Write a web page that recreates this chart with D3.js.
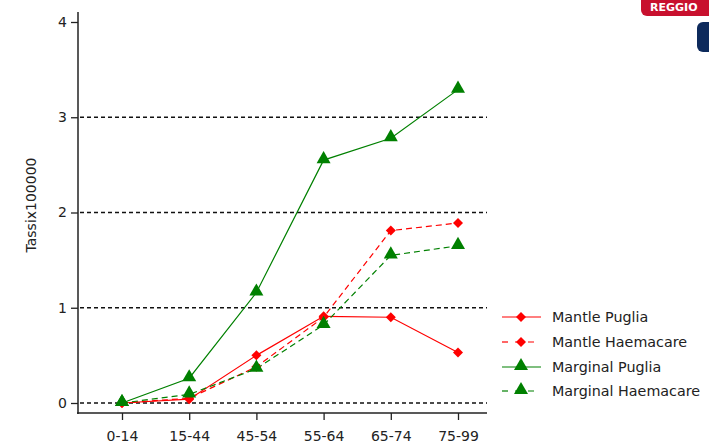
<!DOCTYPE html>
<html><head><meta charset="utf-8">
<script src="https://cdn.jsdelivr.net/npm/d3@7"></script>
<style>body{margin:0;background:#fff;}svg{display:block;font-family:"DejaVu Sans",Verdana,sans-serif;}</style>
</head><body>
<svg id="chart" width="709" height="445"></svg>
<script>
const categories = ["0-14","15-44","45-54","55-64","65-74","75-99"];
const mantlePuglia = [0, 0.04, 0.50, 0.91, 0.90, 0.53];
const mantleHaemacare = [0, 0.05, 0.38, 0.90, 1.81, 1.89];
const marginalPuglia = [0, 0.26, 1.16, 2.55, 2.78, 3.29];
const marginalHaemacare = [0, 0.09, 0.36, 0.82, 1.55, 1.65];
const yTicks = [0, 1, 2, 3, 4];
const gridValues = [0, 1, 2, 3];
const seriesNames = ["Mantle Puglia","Mantle Haemacare","Marginal Puglia","Marginal Haemacare"];

const series = [
  {name: seriesNames[0], values: mantlePuglia, color: "#ff0000", dash: null, shape: "diamond"},
  {name: seriesNames[1], values: mantleHaemacare, color: "#ff0000", dash: "6,4", shape: "diamond"},
  {name: seriesNames[2], values: marginalPuglia, color: "#008000", dash: null, shape: "triangle"},
  {name: seriesNames[3], values: marginalHaemacare, color: "#008000", dash: "6,4", shape: "triangle"}
];

const svg = d3.select("#chart");
const x = d3.scalePoint().domain(categories).range([122, 458]);
const y = d3.scaleLinear().domain([0, 4]).range([403, 22]);

function marker(sel, shape, cx, cy, color) {
  if (shape === "diamond") {
    sel.append("path").attr("d", d3.symbol().type(d3.symbolSquare).size(50)())
      .attr("transform", `translate(${cx},${cy}) rotate(45)`).attr("fill", color);
  } else {
    sel.append("path").attr("d", d3.symbol().type(d3.symbolTriangle).size(85)())
      .attr("transform", `translate(${cx},${cy - 1})`).attr("fill", color);
  }
}

// grid
svg.append("g").selectAll("line").data(gridValues).join("line")
  .attr("x1", 80).attr("x2", 487)
  .attr("y1", d => y(d)).attr("y2", d => y(d))
  .attr("stroke", "#111").attr("stroke-width", 1.3)
  .attr("stroke-dasharray", "4,3");

// axes
const yAxis = svg.append("g").attr("transform", "translate(78,0)")
  .call(d3.axisLeft(y).tickValues(yTicks).tickFormat(d3.format("d")).tickSize(7).tickSizeOuter(0));
yAxis.select(".domain").remove();
svg.append("line").attr("x1", 78).attr("x2", 78).attr("y1", 12).attr("y2", 414)
  .attr("stroke", "#222").attr("stroke-width", 1.5);
yAxis.selectAll(".tick line").attr("stroke", "#222").attr("stroke-width", 1.3);
yAxis.selectAll(".tick text").attr("font-size", 14).attr("fill", "#222").attr("x", -11)
  .attr("font-family", "DejaVu Sans, Verdana, sans-serif");

const xAxis = svg.append("g").attr("transform", "translate(0,413)")
  .call(d3.axisBottom(x).tickSize(7).tickSizeOuter(0));
xAxis.select(".domain").remove();
svg.append("line").attr("x1", 77).attr("x2", 487).attr("y1", 413).attr("y2", 413)
  .attr("stroke", "#222").attr("stroke-width", 1.5);
xAxis.selectAll(".tick line").attr("stroke", "#222").attr("stroke-width", 1.3);
xAxis.selectAll(".tick text").attr("font-size", 14).attr("fill", "#222").attr("y", 18)
  .attr("font-family", "DejaVu Sans, Verdana, sans-serif");

// y label
svg.append("text").attr("transform", "translate(36,205) rotate(-90)")
  .attr("text-anchor", "middle").attr("font-size", 14).attr("fill", "#222")
  .text("Tassix100000");

// lines
const line = d3.line().x((d, i) => x(categories[i])).y(d => y(d));
const g = svg.append("g");
series.forEach(s => {
  g.append("path").datum(s.values).attr("d", line)
    .attr("fill", "none").attr("stroke", s.color).attr("stroke-width", 1.2)
    .attr("stroke-dasharray", s.dash);
});
series.forEach(s => {
  s.values.forEach((v, i) => marker(g, s.shape, x(categories[i]), y(v), s.color));
});

// legend
const legY = [317, 342, 367, 391];
const lg = svg.append("g");
series.forEach((s, i) => {
  const yy = legY[i];
  lg.append("line").attr("x1", 502).attr("x2", 541).attr("y1", yy).attr("y2", yy)
    .attr("stroke", s.color).attr("stroke-width", 1.2)
    .attr("stroke-dasharray", s.dash ? "6,7" : null);
  marker(lg, s.shape, 521, yy, s.color);
  lg.append("text").attr("x", 552).attr("y", yy + 5).attr("font-size", 14.3).attr("fill", "#222")
    .text(s.name);
});

// top-right logo fragment
svg.append("rect").attr("x", 641).attr("y", -10).attr("width", 90).attr("height", 26).attr("rx", 6)
  .attr("fill", "#c8102e");
svg.append("text").attr("x", 650).attr("y", 11).attr("font-size", 11).attr("font-weight", "bold")
  .attr("fill", "#fff").text("REGGIO");
svg.append("rect").attr("x", 697).attr("y", 22).attr("width", 20).attr("height", 30).attr("rx", 6)
  .attr("fill", "#0d2a5c");
</script>
</body></html>
